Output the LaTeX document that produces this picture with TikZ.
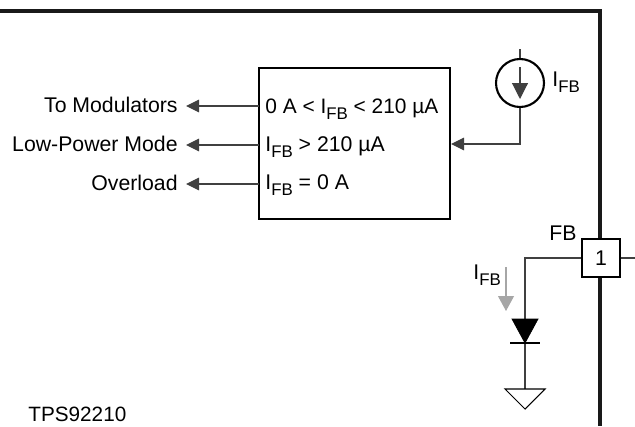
\documentclass[tikz,border=0pt]{standalone}
\usepackage{fontspec}
\usetikzlibrary{arrows.meta}
\setmainfont{Liberation Sans}
\newcommand{\IFB}{I\raisebox{-0.6ex}{\fontsize{9.6}{10}\selectfont FB}}
\tikzset{
  lbl/.style={inner sep=0pt,font=\fontsize{12.1}{14}\selectfont},
  wire/.style={line width=0.65pt,draw=black!75},
  tip/.style={-{Triangle[length=0.26cm,width=0.25cm]}},
}

\begin{document}
\begin{tikzpicture}[x=0.02cm,y=-0.02cm]
            \useasboundingbox (0,0) rectangle (635,426);
            % frame of the device
            \coordinate (frameL) at (0,11);
            \coordinate (frameC) at (600,11);
            \coordinate (frameB) at (600,426);
            \draw[line width=2.2pt,draw=black!90] (frameL) -- (frameC) -- (frameB);
            % logic block
            \node[draw,line width=1pt,minimum width=3.82cm,minimum height=3.02cm,inner sep=0pt] (block) at (354.5,143.5) {};
            \node[lbl,anchor=base west,font=\fontsize{11.9}{14}\selectfont] (rowA) at (265,113) {0 A < \IFB{} < 210 µA};
            \node[lbl,anchor=base west] (rowB) at (265,151) {\IFB{} > 210 µA};
            \node[lbl,anchor=base west] (rowC) at (265,189) {\IFB{} = 0 A};
            \node[lbl,anchor=base east] (outA) at (178,112) {To Modulators};
            \node[lbl,anchor=base east] (outB) at (178,151) {Low-Power Mode};
            \node[lbl,anchor=base east] (outC) at (178,190) {Overload};
            \coordinate (portA) at (259,106);
            \coordinate (portB) at (259,145);
            \coordinate (portC) at (259,184);
            \coordinate (tipA) at (186,106);
            \coordinate (tipB) at (186,145);
            \coordinate (tipC) at (186,184);
            \draw[wire,tip] (portA) -- (tipA);
            \draw[wire,tip] (portB) -- (tipB);
            \draw[wire,tip] (portC) -- (tipC);
            % current source
            \node[draw,circle,line width=1.2pt,minimum size=0.96cm,inner sep=0pt] (src) at (520,83) {};
            \coordinate (srcTop) at (520,49);
            \coordinate (srcIn) at (520,67);
            \coordinate (srcOut) at (520,99);
            \coordinate (srcBend) at (520,144);
            \coordinate (blockIn) at (451,144);
            \draw[wire] (srcTop) -- (src.north);
            \draw[wire,-{Triangle[length=0.32cm,width=0.32cm]}] (srcIn) -- (srcOut);
            \draw[wire,tip] (src.south) -- (srcBend) -- (blockIn);
            \node[lbl,anchor=base west] (srcLbl) at (552,86) {\IFB};
            % pin
            \coordinate (pinEnd) at (635,258);
            \coordinate (bend) at (525,258);
            \coordinate (gnd) at (525,389);
            \node[draw,fill=white,line width=0.8pt,minimum size=0.76cm,inner sep=0pt,lbl] (pin) at (601,258) {1};
            \node[lbl,anchor=base east] (fbLbl) at (577,240) {FB};
            \draw[wire] (pin.east) -- (pinEnd);
            \draw[wire] (pin.west) -- (bend) -- (gnd);
            % diode
            \coordinate (dTip) at (525,343);
            \coordinate (dL) at (512,319);
            \coordinate (dR) at (538,319);
            \coordinate (barL) at (510,343);
            \coordinate (barR) at (540,343);
            \filldraw[line width=0.4pt] (dL) -- (dR) -- (dTip) -- cycle;
            \draw[line width=0.6pt] (barL) -- (barR);
            % ground
            \coordinate (gndL) at (505,389);
            \coordinate (gndR) at (545,389);
            \coordinate (gndTip) at (525,409);
            \draw[line width=0.6pt] (gndL) -- (gndR) -- (gndTip) -- cycle;
            % current direction
            \coordinate (iTop) at (506,267);
            \coordinate (iEnd) at (506,311);
            \draw[line width=0.6pt,draw=black!35,fill=black!35,-{Triangle[length=0.3cm,width=0.32cm]}] (iTop) -- (iEnd);
            \node[lbl,anchor=base west] (iLbl) at (473,279) {\IFB};
            \node[lbl,anchor=base west,font=\fontsize{11.8}{14}\selectfont] (part) at (28,421) {TPS92210};
      \end{tikzpicture}
\end{document}
